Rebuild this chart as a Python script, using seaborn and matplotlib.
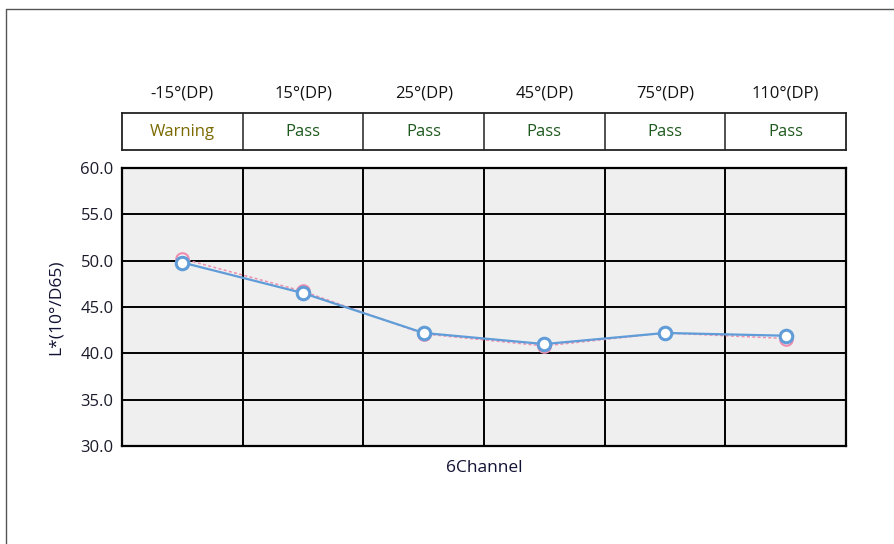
import matplotlib
matplotlib.use("Agg")
import matplotlib.pyplot as plt
import seaborn as sns
import pandas as pd
from matplotlib.lines import Line2D

# Measurement angles and pass/fail status per angle
angles = ["-15°(DP)", "15°(DP)", "25°(DP)", "45°(DP)", "75°(DP)", "110°(DP)"]
status = ["Warning", "Pass", "Pass", "Pass", "Pass", "Pass"]

# L* readings: sample (blue) and standard (pink)
sample_L = [49.8, 46.5, 42.2, 41.0, 42.2, 41.9]
standard_L = [50.2, 46.7, 42.1, 40.8, 42.2, 41.6]

y_ticks = [30.0, 35.0, 40.0, 45.0, 50.0, 55.0, 60.0]

sns.set_theme(style="white")
plt.rcParams["font.family"] = ["Open Sans", "DejaVu Sans"]

df = pd.DataFrame({
    "pos": list(range(len(angles))) * 2,
    "L": standard_L + sample_L,
    "series": ["standard"] * len(angles) + ["sample"] * len(angles),
})

fig = plt.figure(figsize=(8.94, 5.44), dpi=100)
fig.patch.set_facecolor("white")

left, right = 122 / 894, 846 / 894
ax = fig.add_axes([left, 1 - 446 / 544, right - left, (446 - 168) / 544])
ax.set_facecolor("#efefef")

blue = "#5f9cd8"
pink = "#ee8fb0"

sns.lineplot(data=df[df.series == "standard"], x="pos", y="L", ax=ax,
             color=pink, linestyle=(0, (2, 1.5)), linewidth=1.1,
             marker="o", markersize=9, markerfacecolor="white",
             markeredgecolor=pink, markeredgewidth=1.6, zorder=3)
sns.lineplot(data=df[df.series == "sample"], x="pos", y="L", ax=ax,
             color=blue, linewidth=1.6,
             marker="o", markersize=9, markerfacecolor="white",
             markeredgecolor=blue, markeredgewidth=2.2, zorder=4)

ax.set_xlim(-0.5, len(angles) - 0.5)
ax.set_ylim(30, 60)
ax.set_yticks(y_ticks)
ax.set_yticklabels([f"{v:.1f}" for v in y_ticks], fontsize=12, color="#1a1a2a")
ax.set_xticks([])
ax.tick_params(axis="y", length=0, pad=6)

# grid: horizontal at each tick, vertical between categories
for v in y_ticks[1:-1]:
    ax.axhline(v, color="black", linewidth=1.4, zorder=1)
for i in range(1, len(angles)):
    ax.axvline(i - 0.5, color="black", linewidth=1.4, zorder=1)
for s in ax.spines.values():
    s.set_color("black")
    s.set_linewidth(1.6)

ax.set_xlabel("6Channel", fontsize=12.5, color="#111133", labelpad=10)
ax.set_ylabel("L*(10°/D65)", fontsize=12.5, color="#111133", labelpad=12)

# status header row above the chart
hax = fig.add_axes([left, 1 - 150 / 544, right - left, (150 - 113) / 544])
hax.set_xlim(-0.5, len(angles) - 0.5)
hax.set_ylim(0, 1)
hax.set_xticks([])
hax.set_yticks([])
hax.set_facecolor("white")
for s in hax.spines.values():
    s.set_color("#222222")
    s.set_linewidth(1.3)
for i in range(1, len(angles)):
    hax.axvline(i - 0.5, color="#222222", linewidth=1.1)
status_colors = {"Warning": "#7a6a00", "Pass": "#1e5a1e"}
for i, (a, st) in enumerate(zip(angles, status)):
    hax.text(i, 0.5, st, ha="center", va="center", fontsize=12,
             color=status_colors[st])
    hax.text(i, 1.0 + 19 / 37 + 0.02, a, ha="center", va="center",
             fontsize=12, color="#111111", clip_on=False)

# outer frame of the panel
fig.add_artist(Line2D([6 / 894, 1.0], [1 - 9 / 544, 1 - 9 / 544],
                      transform=fig.transFigure, color="#555555", linewidth=1.0))
fig.add_artist(Line2D([6 / 894, 6 / 894], [0.0, 1 - 9 / 544],
                      transform=fig.transFigure, color="#555555", linewidth=1.0))

fig.savefig("out.png", dpi=100)
